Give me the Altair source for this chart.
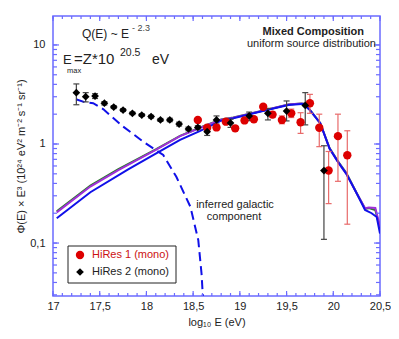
import altair as alt
import pandas as pd

# ---------------- data ----------------
hr1_x = [18.55, 18.65, 18.75, 18.85, 18.95, 19.05, 19.15, 19.25, 19.35, 19.45, 19.55, 19.65, 19.75, 19.85, 19.95, 20.05, 20.15]
hr1_y = [1.75, 1.46, 1.47, 1.68, 1.44, 1.73, 1.78, 2.38, 1.98, 1.75, 2.04, 1.66, 2.58, 1.46, 0.54, 1.20, 0.77]
hr1_lo = [1.70, 1.41, 1.42, 1.62, 1.38, 1.66, 1.70, 2.26, 1.85, 1.60, 1.85, 1.28, 2.04, 0.94, 0.25, 0.42, 0.155]
hr1_hi = [1.80, 1.51, 1.52, 1.74, 1.50, 1.80, 1.86, 2.50, 2.12, 1.92, 2.25, 2.07, 3.17, 2.00, 0.84, 2.00, 1.36]

hr2_x = [17.25, 17.35, 17.45, 17.55, 17.65, 17.75, 17.85, 17.95, 18.05, 18.15, 18.25, 18.35, 18.45, 18.55, 18.65, 18.75, 18.9, 19.1, 19.3, 19.5, 19.7, 19.9]
hr2_y = [3.30, 3.00, 3.05, 2.58, 2.36, 2.20, 2.04, 1.96, 1.89, 1.75, 1.75, 1.59, 1.42, 1.47, 1.33, 1.75, 1.63, 1.92, 2.04, 2.15, 2.45, 0.54]
hr2_lo = [2.49, 2.66, 2.88, 2.48, 2.28, 2.13, 1.98, 1.90, 1.83, 1.69, 1.68, 1.52, 1.36, 1.41, 1.22, 1.59, 1.47, 1.72, 1.75, 1.71, 1.56, 0.109]
hr2_hi = [4.04, 3.30, 3.22, 2.68, 2.44, 2.27, 2.10, 2.02, 1.95, 1.81, 1.82, 1.66, 1.48, 1.53, 1.46, 1.92, 1.78, 2.10, 2.29, 2.72, 3.30, 0.96]

blue_x = [17.04, 17.4, 17.8, 18.1, 18.36, 18.57, 18.8, 18.93, 19.29, 19.52, 19.66, 19.68, 19.75, 19.86, 19.96, 20.05, 20.14, 20.25, 20.34, 20.41, 20.465, 20.5]
blue_y = [0.178, 0.326, 0.552, 0.80, 1.10, 1.35, 1.72, 1.82, 2.20, 2.48, 2.54, 2.54, 2.20, 1.62, 0.90, 0.66, 0.50, 0.318, 0.216, 0.20, 0.183, 0.125]

purple_x = [17.04, 17.4, 17.7, 18.1, 18.36, 18.57, 18.8, 18.93, 19.29, 19.52, 19.66, 19.68, 19.75, 19.86, 19.96, 20.05, 20.14, 20.25, 20.34, 20.38, 20.45, 20.5]
purple_y = [0.204, 0.372, 0.546, 0.87, 1.20, 1.45, 1.76, 1.84, 2.22, 2.50, 2.56, 2.55, 2.20, 1.62, 0.90, 0.66, 0.50, 0.318, 0.225, 0.228, 0.226, 0.146]

green_x = [17.04, 17.4, 17.7, 18.1, 18.36, 18.57, 18.8, 18.93, 19.29, 19.52, 19.66, 19.68, 19.75, 19.86, 19.96, 20.05, 20.14, 20.25, 20.34, 20.38, 20.45, 20.5]
green_y = [0.209, 0.380, 0.556, 0.88, 1.21, 1.46, 1.77, 1.85, 2.22, 2.50, 2.57, 2.55, 2.21, 1.63, 0.91, 0.67, 0.51, 0.32, 0.222, 0.225, 0.215, 0.14]

gal_x = [17.246, 17.34, 17.43, 17.54, 17.75, 17.97, 18.18, 18.32, 18.47, 18.555, 18.59, 18.60, 18.605]
gal_y = [2.83, 2.64, 2.58, 2.24, 1.50, 1.05, 0.774, 0.467, 0.233, 0.107, 0.049, 0.0335, 0.028]

x_tick_labels = [17, 17.5, 18, 18.5, 19, 19.5, 20, 20.5]
y_tick_labels = [0.1, 1, 10]
x_minor = [round(17 + 0.1 * i, 1) for i in range(36)]
y_minor = [m * 10.0 ** e for e in (-2, -1, 0, 1) for m in range(1, 10) if 0.0292 <= m * 10.0 ** e <= 19.6]

# ---------------- styling ----------------
W, H = 327, 280
FONT = "Liberation Sans"
FRAME = "#6b6bff"
BLUE = "#1010e8"
RED = "#dd0000"
ERR_RED = "#e86a6a"

xs = alt.Scale(domain=[17, 20.5], nice=False, zero=False)
ys = alt.Scale(type="log", domain=[0.0292, 19.6], nice=False)

x_axis = alt.Axis(values=x_tick_labels, format="~g", labelExpr="replace(datum.label, '.', ',')",
                  ticks=False, domain=False, grid=False, labelPadding=4, labelFontSize=11,
                  labelFlush=False, labelOverlap=False,
                  labelColor="#222", labelFont=FONT, title="log₁₀ E (eV)", titleFont=FONT,
                  titleFontSize=11, titleFontWeight="normal", titleColor="#222", titlePadding=5)
y_axis = alt.Axis(values=y_tick_labels, format="~g", labelExpr="replace(datum.label, '.', ',')",
                  ticks=False, domain=False, grid=False, labelPadding=8, labelFontSize=11,
                  labelFlush=False, labelOverlap=False,
                  labelColor="#222", labelFont=FONT,
                  title="Φ(E) × E³ (10²⁴ eV² m⁻² s⁻¹ sr⁻¹)", titleFont=FONT,
                  titleFontSize=11, titleFontWeight="normal", titleColor="#222", titlePadding=3)


def X(f):
    return alt.X(f, type="quantitative", scale=xs, axis=x_axis)


def Y(f):
    return alt.Y(f, type="quantitative", scale=ys, axis=y_axis)


def line_df(xv, yv):
    return pd.DataFrame({"x": xv, "y": yv, "o": list(range(len(xv)))})


layers = []

# model curves
layers.append(alt.Chart(line_df(green_x, green_y)).mark_line(color="#2c7a2c", strokeWidth=2, clip=True)
              .encode(x=X("x"), y=Y("y"), order="o"))
layers.append(alt.Chart(line_df(purple_x, purple_y)).mark_line(color="#a030d8", strokeWidth=2, clip=True)
              .encode(x=X("x"), y=Y("y"), order="o"))
layers.append(alt.Chart(line_df(blue_x, blue_y)).mark_line(color=BLUE, strokeWidth=2, clip=True)
              .encode(x=X("x"), y=Y("y"), order="o"))
layers.append(alt.Chart(line_df(gal_x, gal_y)).mark_line(color=BLUE, strokeWidth=2, strokeDash=[9, 5], clip=True)
              .encode(x=X("x"), y=Y("y"), order="o"))

hr1 = pd.DataFrame({"x": hr1_x, "y": hr1_y, "lo": hr1_lo, "hi": hr1_hi})
hr2 = pd.DataFrame({"x": hr2_x, "y": hr2_y, "lo": hr2_lo, "hi": hr2_hi})

for df, col in ((hr2, "#444444"), (hr1, ERR_RED)):
    layers.append(alt.Chart(df).mark_rule(color=col, strokeWidth=1.2, clip=True)
                  .encode(x=X("x"), y=Y("lo"), y2="hi"))
    for end in ("lo", "hi"):
        layers.append(alt.Chart(df).mark_rule(color=col, strokeWidth=1.2, xOffset=-3, x2Offset=3, clip=True)
                      .encode(x=X("x"), x2="x", y=Y(end)))

layers.append(alt.Chart(hr1).mark_point(shape="circle", filled=True, size=70, color=RED, opacity=1, clip=True)
              .encode(x=X("x"), y=Y("y")))
layers.append(alt.Chart(hr2).mark_point(shape="diamond", filled=True, size=60, color="#000000", opacity=1, clip=True)
              .encode(x=X("x"), y=Y("y")))

# frame ticks (inward)
xt_major = pd.DataFrame({"t": x_tick_labels})
xt_minor = pd.DataFrame({"t": x_minor})
yt_major = pd.DataFrame({"t": y_tick_labels})
yt_minor = pd.DataFrame({"t": y_minor})
for df, ln in ((xt_minor, 3), (xt_major, 5)):
    layers.append(alt.Chart(df).mark_rule(color=FRAME, strokeWidth=1.2)
                  .encode(x=X("t"), y=alt.value(H), y2=alt.value(H - ln)))
    layers.append(alt.Chart(df).mark_rule(color=FRAME, strokeWidth=1.2)
                  .encode(x=X("t"), y=alt.value(0), y2=alt.value(ln)))
for df, ln in ((yt_minor, 4), (yt_major, 6)):
    layers.append(alt.Chart(df).mark_rule(color=FRAME, strokeWidth=1.2)
                  .encode(y=Y("t"), x=alt.value(0), x2=alt.value(ln)))
    layers.append(alt.Chart(df).mark_rule(color=FRAME, strokeWidth=1.2)
                  .encode(y=Y("t"), x=alt.value(W), x2=alt.value(W - ln)))

one = pd.DataFrame({"k": [0]})


def txt(s, x, y, size=11, align="left", weight="normal", color="#222", baseline="alphabetic"):
    return alt.Chart(one).mark_text(text=s, align=align, baseline=baseline, fontSize=size,
                                    fontWeight=weight, font=FONT, color=color).encode(
        x=alt.value(x), y=alt.value(y))


# annotations
layers += [
    txt("Q(E) ~ E", 29, 22, 12),
    txt("- 2.3", 79, 15, 9, color="#444"),
    txt("E", 10, 48, 13),
    txt("max", 14, 57, 7.5),
    txt("=Z*10", 21, 48, 15),
    txt("20.5", 67, 40, 10.5),
    txt("eV", 99, 48, 14),
    txt("Mixed Composition", 311, 19, 11, align="right", weight="bold"),
    txt("uniform source distribution", 323, 31, 11, align="right"),
    txt("inferred galactic", 182, 192, 11, align="center"),
    txt("component", 181, 204, 11, align="center"),
]

# legend box
layers.append(alt.Chart(one).mark_rect(fill="white", stroke="#222", strokeWidth=1)
              .encode(x=alt.value(15), x2=alt.value(123), y=alt.value(230), y2=alt.value(267)))
layers.append(alt.Chart(one).mark_point(shape="circle", filled=True, size=70, color=RED, opacity=1)
              .encode(x=alt.value(27), y=alt.value(239)))
layers.append(alt.Chart(one).mark_point(shape="diamond", filled=True, size=60, color="#000", opacity=1)
              .encode(x=alt.value(27), y=alt.value(256)))
layers.append(txt("HiRes 1 (mono)", 39, 239, 11, color="#cc1111", baseline="middle"))
layers.append(txt("HiRes 2 (mono)", 39, 256, 11, color="#222", baseline="middle"))

chart = alt.layer(*layers).properties(
    width=W, height=H, autosize="none",
    padding={"left": 45, "top": 8, "right": 11, "bottom": 33},
    background="white",
).configure_view(stroke=FRAME, strokeWidth=1.5)

chart.save("out.html", embed_options={"renderer": "svg", "actions": False})
